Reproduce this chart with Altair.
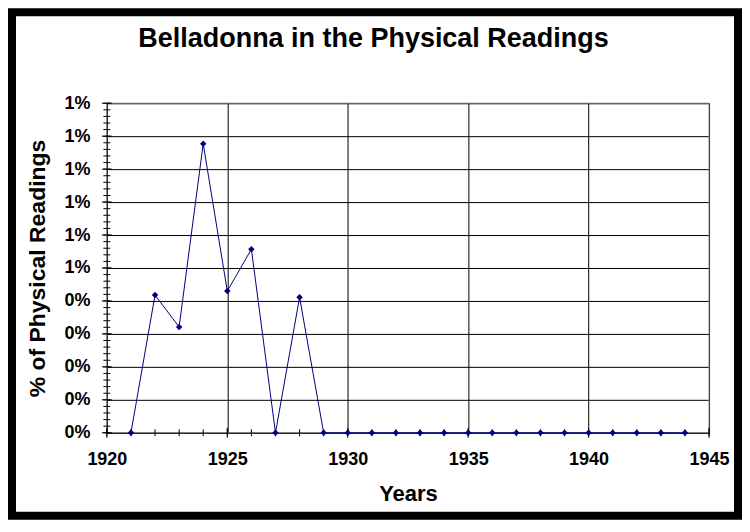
import altair as alt
import pandas as pd

# ---- data ----
years = [1921, 1922, 1923, 1924, 1925, 1926, 1927, 1928, 1929, 1930, 1931, 1932,
         1933, 1934, 1935, 1936, 1937, 1938, 1939, 1940, 1941, 1942, 1943, 1944]
pct = [0.0, 0.418, 0.321, 0.877, 0.430, 0.557, 0.0, 0.411, 0.0, 0.0, 0.0, 0.0,
       0.0, 0.0, 0.0, 0.0, 0.0, 0.0, 0.0, 0.0, 0.0, 0.0, 0.0, 0.0]

x_major = [1920, 1925, 1930, 1935, 1940, 1945]
x_minor = list(range(1920, 1946))
y_major = [0.0, 0.1, 0.2, 0.3, 0.4, 0.5, 0.6, 0.7, 0.8, 0.9, 1.0]
y_labels = ["0%", "0%", "0%", "0%", "0%", "1%", "1%", "1%", "1%", "1%", "1%"]
y_minor = [round(i * 0.02, 2) for i in range(51)]

TITLE = "Belladonna in the Physical Readings"
X_TITLE = "Years"
Y_TITLE = "% of Physical Readings"

FONT = "Liberation Sans"
NAVY = "#000080"

df = pd.DataFrame({"year": years, "pct": pct})
xmaj = pd.DataFrame({"year": x_major, "pct": [0.0] * len(x_major)})
xmin = pd.DataFrame({"year": x_minor, "pct": [0.0] * len(x_minor)})
ymaj = pd.DataFrame({"pct": y_major, "year": [1920] * len(y_major)})
ymin = pd.DataFrame({"pct": y_minor, "year": [1920] * len(y_minor)})

xscale = alt.Scale(domain=[1920, 1945], nice=False, zero=False)
yscale = alt.Scale(domain=[0, 1], nice=False)

label_expr = str(y_labels).replace("'", '"') + "[round(datum.value * 10)]"

x_axis = alt.Axis(
    values=x_major, format="d", labelFlush=False, labelOverlap=False,
    labelFont=FONT, labelFontSize=18, labelFontWeight="bold", labelColor="black",
    labelPadding=18, ticks=False, tickSize=0,
    domainColor="black", domainWidth=1,
    grid=True, gridColor="black", gridWidth=1, gridOpacity=1,
    title=X_TITLE, titleFont=FONT, titleFontSize=22, titleFontWeight="bold",
    titleColor="black", titlePadding=15,
)
y_axis = alt.Axis(
    values=y_major, labelExpr=label_expr, labelFlush=False, labelOverlap=False,
    labelFont=FONT, labelFontSize=18, labelFontWeight="bold", labelColor="black",
    labelPadding=17, ticks=False, tickSize=0,
    domainColor="black", domainWidth=1,
    grid=True, gridColor="black", gridWidth=1, gridOpacity=1,
    title=Y_TITLE, titleFont=FONT, titleFontSize=23, titleFontWeight="bold",
    titleColor="black", titlePadding=14,
)

X = alt.X("year:Q", scale=xscale, axis=x_axis)
Y = alt.Y("pct:Q", scale=yscale, axis=y_axis)

line = alt.Chart(df).mark_line(color=NAVY, strokeWidth=1).encode(x=X, y=Y)
points = alt.Chart(df).mark_point(
    shape="diamond", filled=True, size=42, color=NAVY, opacity=1
).encode(x=X, y=Y)

xt_major = alt.Chart(xmaj).mark_tick(orient="vertical", size=10, thickness=1, color="black", opacity=1).encode(x=X, y=Y)
xt_minor = alt.Chart(xmin).mark_tick(orient="vertical", size=7, thickness=1, color="black", opacity=1).encode(x=X, y=Y)
yt_major = alt.Chart(ymaj).mark_tick(orient="horizontal", size=10, thickness=1, color="black", opacity=1).encode(x=X, y=Y)
yt_minor = alt.Chart(ymin).mark_tick(orient="horizontal", size=7, thickness=1, color="black", opacity=1).encode(x=X, y=Y)

# gray border on top / right of the plot area (drawn over the grid)
border = alt.Chart(alt.Data(values=[{"a": 1}])).mark_rect(
    fillOpacity=0, stroke="#808080", strokeWidth=1
).encode(x=alt.value(0), x2=alt.value(603), y=alt.value(0), y2=alt.value(330))

# black outer frame of the picture
frame = alt.Chart(alt.Data(values=[{"a": 1}])).mark_rect(
    fillOpacity=0, stroke="black", strokeWidth=8
).encode(x=alt.value(-95), x2=alt.value(632), y=alt.value(-91), y2=alt.value(413))

title = alt.Chart(alt.Data(values=[{"t": TITLE}])).mark_text(
    font=FONT, fontSize=27, fontWeight="bold", color="black",
    align="center", baseline="alphabetic",
).encode(text="t:N", x=alt.value(267), y=alt.value(-56))

chart = alt.layer(
    frame, border, line, xt_minor, xt_major, yt_minor, yt_major, points, title
).properties(
    width=603, height=330,
    padding=0,
    background="white",
).configure_view(stroke="#808080", strokeWidth=1)

chart.save("out.html", embed_options={"renderer": "svg", "actions": False})
